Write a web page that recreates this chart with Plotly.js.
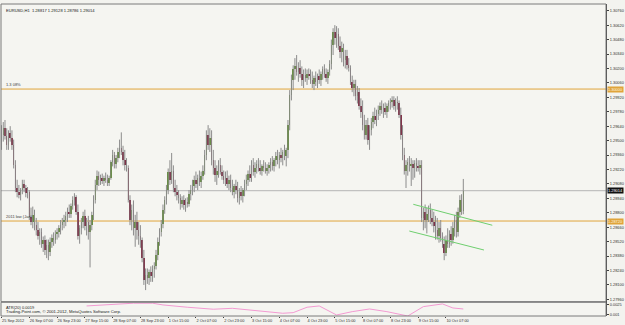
<!DOCTYPE html>
<html><head><meta charset="utf-8">
<script src="https://cdn.plot.ly/plotly-3.0.1.min.js"></script>
<style>html,body{margin:0;padding:0;background:#f3f3ef;}#chart{width:625px;height:325px;}</style>
</head><body><div id="chart"></div>
<script>
const symbolTitle = "EURUSD,H1  1.28817 1.29128 1.28786 1.29014";
const tickBars = [0,16,32,48,64,80,96,112,128,144,160,176,192,208,224,240,256];
const tickLabels = ["25 Sep 2012","26 Sep 07:00","26 Sep 23:00","27 Sep 15:00","28 Sep 07:00","28 Sep 23:00","1 Oct 15:00","2 Oct 07:00","2 Oct 23:00","3 Oct 15:00","4 Oct 07:00","4 Oct 23:00","5 Oct 15:00","8 Oct 07:00","8 Oct 23:00","9 Oct 15:00","10 Oct 07:00"];
const priceTicks = [1.3076,1.3062,1.3048,1.3034,1.3020,1.3006,1.2992,1.2978,1.2964,1.2950,1.2936,1.2922,1.2908,1.2894,1.2880,1.2866,1.2852,1.2838,1.2824,1.2810,1.2796];

const open = [
1.2951,1.2955,1.2962,1.2954,1.2946,1.2957,1.2953,1.2946,1.2926,1.2904,
1.2900,1.2897,1.2902,1.2908,1.2904,1.2899,1.2900,1.2876,1.2871,1.2878,
1.2868,1.2863,1.2857,1.2861,1.2850,1.2854,1.2844,1.2849,1.2842,1.2852,
1.2856,1.2854,1.2859,1.2861,1.2865,1.2868,1.2871,1.2873,1.2877,1.2881,
1.2879,1.2887,1.2892,1.2895,1.2881,1.2857,1.2865,1.2871,1.2877,1.2867,
1.2871,1.2861,1.2868,1.2878,1.2892,1.2907,1.2916,1.2912,1.2914,1.2911,
1.2914,1.2912,1.2909,1.2914,1.2929,1.2936,1.2927,1.2933,1.2939,1.2943,
1.2939,1.2931,1.2926,1.2923,1.2892,1.2873,1.2883,1.2865,1.2871,1.2863,
1.2857,1.2854,1.2836,1.2815,1.2820,1.2817,1.2823,1.2819,1.2825,1.2828,
1.2839,1.2852,1.2861,1.2869,1.2883,1.2892,1.2902,1.2920,1.2912,1.2921,
1.2904,1.2900,1.2897,1.2894,1.2889,1.2892,1.2888,1.2890,1.2889,1.2898,
1.2902,1.2906,1.2912,1.2908,1.2914,1.2910,1.2916,1.2921,1.2936,1.2955,
1.2946,1.2953,1.2931,1.2923,1.2917,1.2921,1.2926,1.2920,1.2916,1.2912,
1.2914,1.2908,1.2912,1.2904,1.2900,1.2906,1.2902,1.2894,1.2900,1.2896,
1.2902,1.2908,1.2912,1.2918,1.2914,1.2926,1.2920,1.2923,1.2927,1.2923,
1.2921,1.2925,1.2923,1.2921,1.2923,1.2926,1.2929,1.2925,1.2931,1.2935,
1.2931,1.2936,1.2933,1.2939,1.2935,1.2941,1.2965,1.2994,1.3009,1.3019,
1.3022,1.3017,1.3020,1.3015,1.3009,1.3014,1.3011,1.3015,1.3013,1.3009,
1.3005,1.3011,1.3007,1.3013,1.3009,1.3015,1.3019,1.3015,1.3011,1.3017,
1.3024,1.3043,1.3055,1.3050,1.3053,1.3042,1.3036,1.3040,1.3028,1.3032,
1.3023,1.3020,1.3007,1.3001,1.3005,1.2993,1.2997,1.2984,1.2978,1.2965,
1.2955,1.2965,1.2951,1.2960,1.2968,1.2974,1.2970,1.2976,1.2980,1.2984,
1.2980,1.2982,1.2978,1.2984,1.2986,1.2987,1.2989,1.2984,1.2987,1.2986,
1.2975,1.2955,1.2936,1.2921,1.2926,1.2929,1.2925,1.2927,1.2923,1.2928,
1.2925,1.2923,1.2926,1.2875,1.2881,1.2873,1.2879,1.2883,1.2875,1.2871,
1.2867,1.2863,1.2857,1.2865,1.2856,1.2850,1.2841,1.2854,1.2850,1.2859,
1.2854,1.2865,1.2873,1.2861,1.2881,1.2892,1.28817];
const high = [
1.2965,1.2968,1.2970,1.2962,1.2960,1.2964,1.2960,1.2951,1.2931,1.2912,
1.2907,1.2904,1.2912,1.2912,1.2907,1.2905,1.2902,1.2885,1.2886,1.2883,
1.2875,1.2871,1.2865,1.2865,1.2857,1.2858,1.2854,1.2854,1.2856,1.2859,
1.2861,1.2863,1.2865,1.2868,1.2873,1.2875,1.2878,1.2881,1.2885,1.2888,
1.2889,1.2896,1.2899,1.2897,1.2888,1.2868,1.2875,1.2881,1.2883,1.2875,
1.2877,1.2873,1.2881,1.2897,1.2912,1.2921,1.2920,1.2917,1.2918,1.2916,
1.2919,1.2917,1.2916,1.2931,1.2941,1.2939,1.2936,1.2943,1.2951,1.2958,
1.2945,1.2941,1.2933,1.2926,1.2897,1.2888,1.2892,1.2878,1.2881,1.2871,
1.2868,1.2856,1.2844,1.2826,1.2826,1.2825,1.2828,1.2829,1.2832,1.2844,
1.2856,1.2865,1.2873,1.2888,1.2896,1.2907,1.2923,1.2931,1.2938,1.2926,
1.2912,1.2907,1.2902,1.2898,1.2896,1.2897,1.2894,1.2895,1.2902,1.2907,
1.2912,1.2916,1.2920,1.2917,1.2921,1.2920,1.2926,1.2941,1.2960,1.2965,
1.2962,1.2960,1.2941,1.2931,1.2926,1.2931,1.2933,1.2926,1.2921,1.2920,
1.2921,1.2916,1.2917,1.2912,1.2908,1.2912,1.2910,1.2904,1.2906,1.2904,
1.2912,1.2917,1.2921,1.2926,1.2931,1.2933,1.2929,1.2931,1.2933,1.2931,
1.2927,1.2931,1.2929,1.2927,1.2929,1.2933,1.2935,1.2933,1.2939,1.2941,
1.2939,1.2943,1.2941,1.2946,1.2943,1.2970,1.2999,1.3014,1.3023,1.3030,
1.3033,1.3026,1.3028,1.3022,1.3019,1.3020,1.3019,1.3020,1.3019,1.3017,
1.3013,1.3017,1.3015,1.3019,1.3017,1.3022,1.3024,1.3020,1.3019,1.3028,
1.3048,1.3059,1.3062,1.3061,1.3059,1.3051,1.3046,1.3044,1.3038,1.3038,
1.3030,1.3023,1.3013,1.3009,1.3009,1.3003,1.3001,1.2991,1.2989,1.2975,
1.2970,1.2972,1.2965,1.2972,1.2978,1.2982,1.2980,1.2984,1.2987,1.2989,
1.2986,1.2987,1.2986,1.2989,1.2991,1.2993,1.2993,1.2991,1.2993,1.2989,
1.2982,1.2965,1.2943,1.2931,1.2933,1.2935,1.2933,1.2931,1.2931,1.2933,
1.2931,1.2931,1.2931,1.2885,1.2888,1.2885,1.2887,1.2889,1.2883,1.2881,
1.2877,1.2875,1.2871,1.2873,1.2861,1.2857,1.2858,1.2865,1.2863,1.2867,
1.2871,1.2878,1.2881,1.2885,1.2897,1.2898,1.29128];
const low = [
1.2941,1.2949,1.2951,1.2941,1.2941,1.2949,1.2941,1.2923,1.2900,1.2895,
1.2894,1.2892,1.2898,1.2900,1.2895,1.2894,1.2873,1.2868,1.2865,1.2863,
1.2858,1.2854,1.2849,1.2846,1.2842,1.2839,1.2836,1.2834,1.2838,1.2846,
1.2848,1.2850,1.2854,1.2856,1.2859,1.2863,1.2865,1.2867,1.2871,1.2875,
1.2875,1.2883,1.2887,1.2878,1.2854,1.2850,1.2859,1.2865,1.2863,1.2858,
1.2854,1.2827,1.2863,1.2873,1.2889,1.2902,1.2906,1.2907,1.2908,1.2906,
1.2909,1.2906,1.2906,1.2912,1.2925,1.2923,1.2923,1.2929,1.2933,1.2936,
1.2926,1.2921,1.2920,1.2890,1.2868,1.2863,1.2858,1.2847,1.2854,1.2849,
1.2846,1.2832,1.2810,1.2805,1.2811,1.2810,1.2813,1.2813,1.2817,1.2825,
1.2834,1.2848,1.2857,1.2865,1.2879,1.2888,1.2898,1.2907,1.2908,1.2900,
1.2896,1.2892,1.2889,1.2883,1.2885,1.2883,1.2881,1.2885,1.2886,1.2892,
1.2897,1.2900,1.2904,1.2902,1.2906,1.2904,1.2912,1.2917,1.2931,1.2941,
1.2939,1.2926,1.2917,1.2910,1.2907,1.2914,1.2917,1.2912,1.2908,1.2906,
1.2904,1.2902,1.2900,1.2897,1.2894,1.2898,1.2890,1.2888,1.2892,1.2890,
1.2896,1.2902,1.2906,1.2910,1.2910,1.2916,1.2914,1.2918,1.2920,1.2917,
1.2916,1.2920,1.2918,1.2916,1.2918,1.2920,1.2921,1.2920,1.2925,1.2927,
1.2923,1.2929,1.2926,1.2931,1.2925,1.2933,1.2960,1.2989,1.2999,1.3009,
1.3013,1.3007,1.3011,1.3003,1.3001,1.3007,1.3004,1.3009,1.3005,1.3001,
1.2999,1.3003,1.3001,1.3005,1.3003,1.3009,1.3011,1.3007,1.3005,1.3013,
1.3019,1.3033,1.3043,1.3040,1.3038,1.3030,1.3026,1.3022,1.3020,1.3019,
1.3017,1.3004,1.2997,1.2993,1.2989,1.2986,1.2980,1.2972,1.2960,1.2951,
1.2951,1.2946,1.2941,1.2955,1.2962,1.2966,1.2964,1.2970,1.2974,1.2976,
1.2972,1.2975,1.2972,1.2978,1.2980,1.2982,1.2980,1.2978,1.2980,1.2972,
1.2951,1.2931,1.2917,1.2904,1.2916,1.2920,1.2906,1.2912,1.2914,1.2920,
1.2920,1.2917,1.2871,1.2863,1.2865,1.2860,1.2871,1.2869,1.2867,1.2861,
1.2854,1.2854,1.2851,1.2852,1.2846,1.2834,1.2838,1.2846,1.2846,1.2848,
1.2850,1.2857,1.2856,1.2857,1.2875,1.2878,1.28786];
const close = [
1.2955,1.2962,1.2954,1.2946,1.2957,1.2953,1.2946,1.2926,1.2904,1.2900,
1.2897,1.2902,1.2908,1.2904,1.2899,1.2900,1.2876,1.2871,1.2878,1.2868,
1.2863,1.2857,1.2861,1.2850,1.2854,1.2844,1.2849,1.2842,1.2852,1.2856,
1.2854,1.2859,1.2861,1.2865,1.2868,1.2871,1.2873,1.2877,1.2881,1.2879,
1.2887,1.2892,1.2895,1.2881,1.2857,1.2865,1.2871,1.2877,1.2867,1.2871,
1.2861,1.2868,1.2878,1.2892,1.2907,1.2916,1.2912,1.2914,1.2911,1.2914,
1.2912,1.2909,1.2914,1.2929,1.2936,1.2927,1.2933,1.2939,1.2943,1.2939,
1.2931,1.2926,1.2923,1.2892,1.2873,1.2883,1.2865,1.2871,1.2863,1.2857,
1.2854,1.2836,1.2815,1.2820,1.2817,1.2823,1.2819,1.2825,1.2828,1.2839,
1.2852,1.2861,1.2869,1.2883,1.2892,1.2902,1.2920,1.2912,1.2921,1.2904,
1.2900,1.2897,1.2894,1.2889,1.2892,1.2888,1.2890,1.2889,1.2898,1.2902,
1.2906,1.2912,1.2908,1.2914,1.2910,1.2916,1.2921,1.2936,1.2955,1.2946,
1.2953,1.2931,1.2923,1.2917,1.2921,1.2926,1.2920,1.2916,1.2912,1.2914,
1.2908,1.2912,1.2904,1.2900,1.2906,1.2902,1.2894,1.2900,1.2896,1.2902,
1.2908,1.2912,1.2918,1.2914,1.2926,1.2920,1.2923,1.2927,1.2923,1.2921,
1.2925,1.2923,1.2921,1.2923,1.2926,1.2929,1.2925,1.2931,1.2935,1.2931,
1.2936,1.2933,1.2939,1.2935,1.2941,1.2965,1.2994,1.3009,1.3019,1.3022,
1.3017,1.3020,1.3015,1.3009,1.3014,1.3011,1.3015,1.3013,1.3009,1.3005,
1.3011,1.3007,1.3013,1.3009,1.3015,1.3019,1.3015,1.3011,1.3017,1.3024,
1.3043,1.3055,1.3050,1.3053,1.3042,1.3036,1.3040,1.3028,1.3032,1.3023,
1.3020,1.3007,1.3001,1.3005,1.2993,1.2997,1.2984,1.2978,1.2965,1.2955,
1.2965,1.2951,1.2960,1.2968,1.2974,1.2970,1.2976,1.2980,1.2984,1.2980,
1.2982,1.2978,1.2984,1.2986,1.2987,1.2989,1.2984,1.2987,1.2986,1.2975,
1.2955,1.2936,1.2921,1.2926,1.2929,1.2925,1.2927,1.2923,1.2928,1.2925,
1.2923,1.2926,1.2875,1.2881,1.2873,1.2879,1.2883,1.2875,1.2871,1.2867,
1.2863,1.2857,1.2865,1.2856,1.2850,1.2841,1.2854,1.2850,1.2859,1.2854,
1.2865,1.2873,1.2861,1.2881,1.2892,1.2882,1.29014];

const levelPrices = [1.3000, 1.2872];
const levelLabels = ["1.3 08%", "2011 low (Jan)"];
const levelBoxText = ["1.30000", "1.28720"];
const trendUpperBars = [237.2, 282.7], trendUpperPrices = [1.28882, 1.28679];
const trendLowerBars = [234.9, 277.9], trendLowerPrices = [1.28623, 1.28439];
const atrBars = [49,62,76,87,93,107,122,133,145,162,168,176,183,193,202,212,222,234,243,254,260,266];
const atrValues = [0.00235,0.0025,0.00276,0.00276,0.0025,0.00216,0.00186,0.0020,0.00165,0.00126,0.00135,0.00216,0.00235,0.0010,0.0015,0.0019,0.0015,0.00085,0.00225,0.00265,0.00205,0.0019];
const atrTicks = [0.0025, 0.001], atrTickText = ["0.0025", "0.001"];

const FONT = "Liberation Sans, Arial, sans-serif";
const idx = close.map((_, i) => i);
const wx = [], wy = [];
idx.forEach(i => { wx.push(i, i, null); wy.push(low[i], high[i], null); });
function bodies(up) {
  const x = [], b = [], h = [];
  idx.forEach(i => {
    const isUp = close[i] >= open[i];
    if (isUp === up) { x.push(i); b.push(Math.min(open[i], close[i])); h.push(Math.max(Math.abs(close[i]-open[i]), 0.00003)); }
  });
  return {x, b, h};
}
const ub = bodies(true), db = bodies(false);
const last = close.length - 1;

const traces = [
  {type:'scatter', mode:'lines', x:wx, y:wy, line:{color:'#8c8c8c', width:1}, hoverinfo:'skip', xaxis:'x', yaxis:'y'},
  {type:'bar', x:ub.x, y:ub.h, base:ub.b, width:0.85, marker:{color:'#5a8d28', line:{width:0}}, xaxis:'x', yaxis:'y'},
  {type:'bar', x:db.x, y:db.h, base:db.b, width:0.85, marker:{color:'#7a0f2e', line:{width:0}}, xaxis:'x', yaxis:'y'},
  {type:'scatter', mode:'lines', x:trendUpperBars, y:trendUpperPrices, line:{color:'#6fcf6f', width:1}, xaxis:'x', yaxis:'y'},
  {type:'scatter', mode:'lines', x:trendLowerBars, y:trendLowerPrices, line:{color:'#6fcf6f', width:1}, xaxis:'x', yaxis:'y'},
  {type:'scatter', mode:'lines', x:atrBars, y:atrValues, line:{color:'#f39ad2', width:1}, xaxis:'x', yaxis:'y2'}
];

const MAIN_BOTTOM = 0.046, ATR_TOP = 0.044;
const shapes = [
  {type:'line', xref:'paper', x0:0, x1:1, yref:'y', y0:levelPrices[0], y1:levelPrices[0], line:{color:'#e0a43a', width:1}, layer:'below'},
  {type:'line', xref:'paper', x0:0, x1:1, yref:'y', y0:levelPrices[1], y1:levelPrices[1], line:{color:'#e0a43a', width:1}, layer:'below'},
  {type:'line', xref:'paper', x0:0, x1:1, yref:'y', y0:close[last], y1:close[last], line:{color:'#b4b4b4', width:1}, layer:'below'},
  {type:'rect', xref:'paper', yref:'paper', x0:0, x1:1, y0:MAIN_BOTTOM, y1:1, line:{color:'#7a7a7a', width:1}},
  {type:'rect', xref:'paper', yref:'paper', x0:0, x1:1, y0:0, y1:ATR_TOP, line:{color:'#7a7a7a', width:1}}
];

const small = {family:FONT, size:3.9, color:'#303030'};
const annotations = [
  {xref:'paper', yref:'paper', x:0, y:1, xanchor:'left', yanchor:'top', xshift:3, yshift:-2, text:symbolTitle, showarrow:false, font:{family:FONT, size:4.1, color:'#202020'}},
  {xref:'paper', yref:'y', x:0, y:levelPrices[0], xanchor:'left', yanchor:'bottom', xshift:3, text:levelLabels[0], showarrow:false, font:{family:FONT, size:4, color:'#404040'}},
  {xref:'paper', yref:'y', x:0, y:levelPrices[1], xanchor:'left', yanchor:'bottom', xshift:3, text:levelLabels[1], showarrow:false, font:{family:FONT, size:4, color:'#404040'}},
  {xref:'paper', yref:'y', x:1, y:levelPrices[0], xanchor:'left', yanchor:'middle', xshift:1, text:levelBoxText[0], showarrow:false, bgcolor:'#e0a43a', borderpad:0, font:{family:FONT, size:3.9, color:'#fff8e0'}},
  {xref:'paper', yref:'y', x:1, y:levelPrices[1], xanchor:'left', yanchor:'middle', xshift:1, text:levelBoxText[1], showarrow:false, bgcolor:'#e0a43a', borderpad:0, font:{family:FONT, size:3.9, color:'#fff8e0'}},
  {xref:'paper', yref:'y', x:1, y:close[last], xanchor:'left', yanchor:'middle', xshift:1, text:close[last].toFixed(5), showarrow:false, bgcolor:'#101010', borderpad:0, font:{family:FONT, size:3.9, color:'#ffffff'}},
  {xref:'paper', yref:'paper', x:0, y:ATR_TOP, xanchor:'left', yanchor:'top', xshift:3, yshift:-1, text:'ATR(20) 0.0019', showarrow:false, font:{family:FONT, size:4, color:'#202020'}},
  {xref:'paper', yref:'paper', x:0, y:0, xanchor:'left', yanchor:'bottom', xshift:3, yshift:0, text:'Trading-Point.com, © 2001-2012, MetaQuotes Software Corp.', showarrow:false, font:{family:FONT, size:4.2, color:'#202020'}}
];

const layout = {
  width:625, height:325, autosize:false,
  margin:{l:1, r:19, t:4, b:9, pad:0},
  paper_bgcolor:'#f3f3ef', plot_bgcolor:'#f5f5f1',
  showlegend:false, barmode:'overlay', bargap:0,
  xaxis:{anchor:'y2', range:[-0.3, 348.2], tickvals:tickBars, ticktext:tickLabels, ticks:'outside', ticklen:1, tickcolor:'#404040', tickangle:0,
         ticklabelposition:'outside right', tickfont:small, showgrid:false, zeroline:false, showline:false, fixedrange:true},
  yaxis:{domain:[MAIN_BOTTOM, 1], range:[1.27938, 1.30825], side:'right', tickvals:priceTicks, ticktext:priceTicks.map(v => v.toFixed(5)),
         ticks:'outside', ticklen:2, tickcolor:'#404040', tickfont:small, showgrid:false, zeroline:false, showline:true, linecolor:'#404040', linewidth:1},
  yaxis2:{domain:[0, ATR_TOP], range:[0.00085, 0.0029], side:'right', tickvals:atrTicks, ticktext:atrTickText,
          ticks:'outside', ticklen:2, tickcolor:'#404040', tickfont:small, showgrid:false, zeroline:false, showline:true, linecolor:'#404040', linewidth:1},
  shapes:shapes, annotations:annotations
};
Plotly.newPlot('chart', traces, layout, {staticPlot:true, displayModeBar:false});
</script></body></html>
